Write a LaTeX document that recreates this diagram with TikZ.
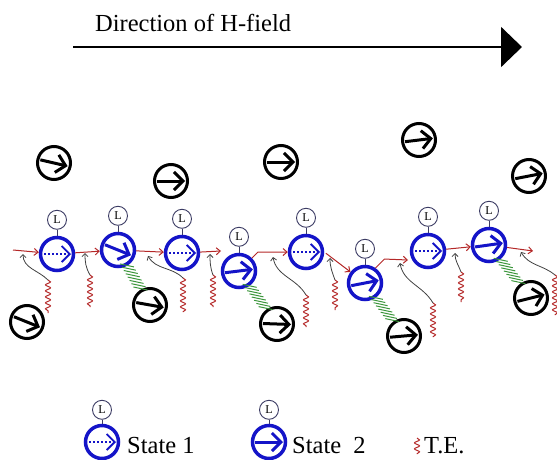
\documentclass[tikz,border=0pt]{standalone}
\usepackage{fontspec}
\setmainfont{Liberation Serif}
\usetikzlibrary{calc,arrows.meta,positioning,decorations.pathmorphing}
\definecolor{spinblue}{RGB}{20,20,200}
\definecolor{heatred}{RGB}{180,40,40}
\definecolor{ladgreen}{RGB}{60,150,60}
\definecolor{lgray}{RGB}{60,60,100}
\tikzset{
    stateone/.style={circle,draw=spinblue,line width=3.5pt,minimum size=33pt,inner sep=0pt},
    statetwo/.style={stateone},
    moment/.style={circle,draw=black,line width=3pt,minimum size=33pt,inner sep=0pt},
    lcirc/.style={circle,draw=lgray,line width=0.9pt,minimum size=19pt,inner sep=0pt,font=\fontsize{12}{12}\selectfont},
    lstem/.style={draw=lgray,line width=0.9pt},
    dotarrow/.style={spinblue,line width=2pt,dotted,-{Straight Barb[length=8pt,width=16pt,line width=1.8pt]}},
    solidarrow/.style={spinblue,line width=3pt,-{Straight Barb[length=9pt,width=18pt]}},
    momarrow/.style={black,line width=3pt,-{Straight Barb[length=9pt,width=18pt]}},
    redarrow/.style={heatred,line width=1pt,-{Straight Barb[length=4pt,width=7pt]}},
    hookarrow/.style={black!75,line width=0.8pt,-{Straight Barb[length=3pt,width=6pt]}},
    heat/.style={heatred,line width=1pt,decorate,decoration={snake,amplitude=2.5pt,segment length=6pt}},
    rung/.style={ladgreen,line width=1pt},
    fieldarrow/.style={line width=2pt,-{Triangle[length=21pt,width=40pt]}},
    bigtext/.style={font=\fontsize{24.5}{24.5}\selectfont,anchor=base west,inner sep=0pt}
}
\begin{document}
\begin{tikzpicture}[x=1pt,y=-1pt]
    \useasboundingbox (0,0) rectangle (557,460);
    % field direction
    \node[bigtext] (title) at (95,32) {Direction of H-field};
    \coordinate (hs) at (73,47);
    \coordinate (he) at (522,47);
    \draw[fieldarrow] (hs) -- (he);
    % lattice moments
    \foreach \n/\x/\y/\a in {1/54/163/13,2/171/181/0,3/281/162/0,4/419/140/-7,5/529/176/-11,
        6/27/322/22,7/150/305/10,8/277/324/2,9/404/336/-5,10/531/298/-14}{
        \node[moment] (m\n) at (\x,\y) {};
        \draw[momarrow] ($(m\n)+(\a+180:14)$) -- ($(m\n)+(\a:14)$);
    }
    % spins in state 1 and state 2
    \foreach \n/\x/\y in {1/57/254,3/182/253,5/306/252,7/428/251}{
        \node[stateone] (b\n) at (\x,\y) {};
        \draw[dotarrow] ($(b\n)+(-13,0)$) -- ($(b\n)+(14,0)$);
    }
    \foreach \n/\x/\y/\a in {2/118/250/22,4/239/271/-7,6/365/283/-11,8/489/245/-8}{
        \node[statetwo] (b\n) at (\x,\y) {};
        \draw[solidarrow] ($(b\n)+(\a+180:14)$) -- ($(b\n)+(\a:14)$);
    }
    \foreach \n in {1,...,8}{
        \node[lcirc,above=6pt of b\n] (l\n) {L};
        \draw[lstem] (l\n) -- (b\n);
    }
    % propagation
    \coordinate (r0) at (13,250);
    \coordinate (c3) at (221,251);
    \coordinate (c6) at (408,260);
    \coordinate (c8) at (533,251);
    \draw[redarrow] (r0) -- (b1);
    \draw[redarrow] (b1) -- (b2);
    \draw[redarrow] (b2) -- (b3);
    \draw[redarrow] (b3) -- (c3);
    \draw[redarrow] (b4.45) -- ++(6,-6) -- (b5);
    \draw[redarrow,shorten <=2pt] (b5.east) -- (b6);
    \draw[redarrow] (b6.55) -- ++(9,-9) -- (c6);
    \draw[redarrow] (b7) -- (b8);
    \draw[redarrow] (b8) -- (c8);
    % coupling ladders
    \foreach \p/\q in {b2/m7,b4/m8,b6/m9,b8/m10}{
        \foreach \t in {0.28,0.34,...,0.71}
            \draw[rung] ($(\p)!\t!(\q)$) ++(-7,-1.5) -- ++(14,3);
    }
    % thermal energy
    \foreach \n/\x/\y/\len/\hx/\hy/\o/\i in {1/48/280/33/23/254/135/-90,2/90/275/32/85/253/120/-90,
        3/183/278/34/148/256/135/-60,4/213/275/32/210/254/110/-90,5/306/295/32/273/257/120/-80,
        6/335/280/30/330/258/110/-90,7/433/303/34/400/263/120/-80,8/461/272/30/455/253/110/-90,
        9/555/275/40/521/252/140/-60}{
        \coordinate (s\n) at (\x,\y);
        \coordinate (h\n) at (\hx,\hy);
        \draw[heat] (s\n) -- ++(0,\len);
        \draw[hookarrow] (s\n) to[out=\o,in=\i] (h\n);
    }
    % legend
    \node[stateone] (ls1) at (102,442) {};
    \draw[dotarrow] ($(ls1)+(-13,0)$) -- ($(ls1)+(14,0)$);
    \node[lcirc,above=4pt of ls1] (ll1) {L};
    \draw[lstem] (ll1) -- (ls1);
    \node[bigtext] (t1) at (127,453) {State 1};
    \node[statetwo] (ls2) at (269,442) {};
    \draw[solidarrow] ($(ls2)+(-14,0)$) -- ($(ls2)+(14,0)$);
    \node[lcirc,above=4pt of ls2] (ll2) {L};
    \draw[lstem] (ll2) -- (ls2);
    \node[bigtext] (t2) at (292,453) {State\ \ 2};
    \coordinate (sl) at (417,438);
    \draw[heat] (sl) -- ++(0,16);
    \node[bigtext] (t3) at (424,453) {T.E.};
\end{tikzpicture}
\end{document}
